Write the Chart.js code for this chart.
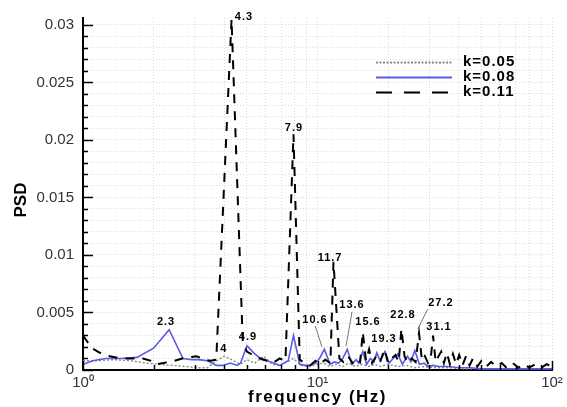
<!DOCTYPE html>
<html>
<head>
<meta charset="utf-8">
<script src="https://cdn.jsdelivr.net/npm/chart.js@4.4.1/dist/chart.umd.min.js"></script>
<style>
  body { margin: 0; background: #fff; }
  canvas { display: block; }
</style>
</head>
<body>
<canvas id="psdChart" width="567" height="407"></canvas>
<script>
// k = 0.05 (dotted)
const freq05 = [1.00,1.15,1.35,1.60,1.85,2.10,2.40,2.75,3.10,3.40,3.70,4.00,4.40,4.70,5.00,5.40,5.90,6.40,6.90,7.40,
  7.90,8.50,9.20,9.90,10.6,11.3,12.0,12.8,13.6,14.5,15.5,16.5,17.5,18.5,20.0,22.0,24.0,26.0,28.0,32.0,36.0,42.0,50.0,60.0,75.0,100];
const psd05 = [0.0008,0.0008,0.0009,0.0008,0.0006,0.0005,0.0004,0.0003,0.0002,0.0002,
  0.0008,0.0012,0.0008,0.0005,0.0009,0.0006,0.0012,0.0005,0.0004,0.0007,
  0.0010,0.0004,0.0003,0.0005,0.0006,0.0003,0.0005,0.0003,0.0006,0.0003,
  0.0005,0.0003,0.0005,0.0003,0.0005,0.0003,0.0004,0.0002,0.0003,0.0002,
  0.0002,0.0001,0.0001,0.0001,0.0001,0.0001];

// k = 0.08 (solid blue)
const freq08 = [1.00,1.10,1.25,1.45,1.70,2.00,2.33,2.67,2.90,3.10,3.40,3.70,3.95,4.25,4.55,4.70,5.00,5.40,5.80,6.10,
  6.50,6.90,7.50,7.90,8.40,8.90,9.30,9.80,10.2,10.7,11.3,11.8,12.3,12.8,13.4,14.0,14.6,15.0,15.6,16.2,
  16.8,17.4,17.9,18.5,19.4,20.2,21.0,22.0,23.0,24.2,25.0,26.0,27.2,28.5,29.5,31.0,33.0,36.0,40.0,45.0,
  50.0,60.0,70.0,80.0,100];
const psd08 = [0.0005,0.0008,0.0010,0.0010,0.0011,0.0019,0.0035,0.0010,0.0009,0.0009,
  0.0008,0.0004,0.0004,0.0006,0.0004,0.0006,0.0021,0.0014,0.0009,0.0008,
  0.0006,0.0004,0.0008,0.0030,0.0005,0.0004,0.0004,0.0006,0.0010,0.0018,
  0.0005,0.0007,0.0006,0.0010,0.0018,0.0005,0.0009,0.0006,0.0016,0.0005,
  0.0010,0.0007,0.0015,0.0008,0.0016,0.0006,0.0010,0.0014,0.0005,0.0012,
  0.0007,0.0017,0.0005,0.0006,0.0003,0.0004,0.0003,0.0003,0.0002,0.0002,
  0.0001,0.0001,0.0001,0.0001,0.0001];

// k = 0.11 (dashed black)
const freq11 = [1.00,1.09,1.18,1.30,1.45,1.60,1.80,1.95,2.05,2.20,2.45,2.65,2.85,3.05,3.30,3.50,3.70,4.30,4.80,5.00,
  5.30,5.70,6.10,6.45,6.90,7.30,7.90,8.40,8.80,9.30,9.80,10.2,10.8,11.35,11.7,12.4,12.9,13.5,14.1,14.7,
  15.2,15.6,16.1,16.6,17.1,17.8,18.5,19.3,20.0,20.7,21.5,22.2,22.8,23.5,24.3,25.2,26.2,27.1,27.9,28.7,
  29.6,30.4,31.1,31.9,32.8,33.7,34.6,35.6,36.7,37.8,39.0,40.2,41.5,43.0,44.5,46.0,48.0,50.0,52.5,55.0,
  58.0,61.0,64.0,68.0,72.0,76.0,80.0,85.0,90.0,95.0,100];
const psd11 = [0.0030,0.0019,0.0015,0.0012,0.0010,0.0010,0.0010,0.0008,0.0005,0.0006,
  0.0008,0.0010,0.0011,0.0012,0.0009,0.0008,0.0009,0.0305,0.0024,0.0016,
  0.0013,0.0010,0.0008,0.0006,0.0010,0.0008,0.0205,0.0009,0.0006,0.0004,
  0.0008,0.0005,0.0009,0.0006,0.0094,0.0010,0.0007,0.0012,0.0006,0.0010,
  0.0007,0.0033,0.0008,0.0018,0.0006,0.0012,0.0007,0.0018,0.0006,0.0010,
  0.0013,0.0007,0.0036,0.0012,0.0006,0.0010,0.0007,0.0032,0.0008,0.0012,
  0.0006,0.0010,0.0030,0.0007,0.0012,0.0016,0.0006,0.0015,0.0005,0.0014,
  0.0005,0.0013,0.0004,0.0012,0.0004,0.0010,0.0003,0.0008,0.0003,0.0007,
  0.0003,0.0006,0.0002,0.0006,0.0002,0.0005,0.0002,0.0005,0.0002,0.0005,
  0.0003];

// axis ticks
const xMajor = [1, 10, 100];
const xMajorLabels = ['10\u2070', '10\u00b9', '10\u00b2'];
const yMajor = [0, 0.005, 0.01, 0.015, 0.02, 0.025, 0.03];
const yMajorLabels = ['0', '0.005', '0.01', '0.015', '0.02', '0.025', '0.03'];

// peak annotations: text, anchor in data units
const peakText = ['2.3', '4', '4.3', '4.9', '7.9', '10.6', '11.7', '13.6', '15.6', '19.3', '22.8', '27.2', '31.1'];
const peakAt = [[2.26, 0.00417], [3.99, 0.00183], [4.86, 0.0307], [5.05, 0.00287], [7.94, 0.02104],
  [9.76, 0.00435], [11.31, 0.00974], [14.03, 0.00565], [16.42, 0.00417], [19.21, 0.0027],
  [23.15, 0.00478], [33.6, 0.00583], [32.97, 0.00374]];
const leaders = [[[9.78, 0.00383], [10.45, 0.0020]], [[14.03, 0.00504], [13.24, 0.00209]], [[29.5, 0.0053], [26.8, 0.00357]]];

const xTicks = [];
for (const d of [1, 10]) for (let m = 1; m < 10; m++) xTicks.push(d * m);
xTicks.push(100);
const yTicks = [];
for (let i = 0; i <= 30; i++) yTicks.push(i / 1000);

const pts = (fs, ps) => fs.map((f, i) => ({x: f, y: ps[i]}));

const decorations = {
  id: 'decorations',
  afterDraw(chart) {
    const {ctx, chartArea: a, scales: {x, y}} = chart;
    ctx.save();
    const seg = (x1, y1, x2, y2) => { ctx.beginPath(); ctx.moveTo(x1, y1); ctx.lineTo(x2, y2); ctx.stroke(); };

    // inward ticks
    ctx.strokeStyle = '#000';
    ctx.lineWidth = 1.5;
    yTicks.forEach((v, i) => {
      const py = Math.round(y.getPixelForValue(v)) + 0.5;
      seg(a.left, py, a.left + (i % 5 === 0 ? 10 : 5), py);
    });
    xTicks.forEach(v => {
      const px = Math.round(x.getPixelForValue(v)) + 0.5;
      seg(px, a.bottom, px, a.bottom - (xMajor.includes(v) ? 9 : 5));
    });

    // leader lines
    ctx.strokeStyle = '#777';
    ctx.lineWidth = 1;
    leaders.forEach(([p, q]) => seg(x.getPixelForValue(p[0]), y.getPixelForValue(p[1]),
      x.getPixelForValue(q[0]), y.getPixelForValue(q[1])));

    // peak labels
    ctx.fillStyle = '#000';
    ctx.font = 'bold 11px "Liberation Sans", Arial, sans-serif';
    ctx.letterSpacing = '1px';
    ctx.textAlign = 'center';
    ctx.textBaseline = 'middle';
    peakText.forEach((t, i) => ctx.fillText(t, x.getPixelForValue(peakAt[i][0]), y.getPixelForValue(peakAt[i][1])));

    // legend
    const rows = [62, 77, 92];
    const legendDash = [[2, 1.5], [], [16, 12]];
    ctx.font = 'bold 15px "Liberation Sans", Arial, sans-serif';
    ctx.textAlign = 'left';
    chart.data.datasets.forEach((ds, i) => {
      ctx.save();
      ctx.strokeStyle = ds.borderColor;
      ctx.lineWidth = 2;
      ctx.setLineDash(legendDash[i]);
      seg(376, rows[i] + 0.5, 452, rows[i] + 0.5);
      ctx.restore();
      ctx.fillText(ds.label, 463, rows[i]);
    });

    // axis titles
    ctx.font = 'bold 17px "Liberation Sans", Arial, sans-serif';
    ctx.letterSpacing = '1.5px';
    ctx.textAlign = 'center';
    ctx.fillText('frequency (Hz)', (a.left + a.right) / 2, 397);
    ctx.letterSpacing = '0px';
    ctx.translate(21, 200);
    ctx.rotate(-Math.PI / 2);
    ctx.fillText('PSD', 0, 0);
    ctx.restore();
  }
};

new Chart(document.getElementById('psdChart'), {
  type: 'line',
  data: {
    datasets: [
      {label: 'k=0.05', data: pts(freq05, psd05), borderColor: '#8a8a8a', borderWidth: 1.4, borderDash: [2, 2], order: 2},
      {label: 'k=0.08', data: pts(freq08, psd08), borderColor: '#5a5ae6', borderWidth: 1.6, order: 1},
      {label: 'k=0.11', data: pts(freq11, psd11), borderColor: '#000000', borderWidth: 2, borderDash: [9, 8], order: 0}
    ]
  },
  options: {
    responsive: false,
    devicePixelRatio: 1,
    animation: false,
    elements: {point: {radius: 0}, line: {tension: 0}},
    layout: {padding: {top: 18, right: 15, left: 0, bottom: 0}},
    plugins: {legend: {display: false}, tooltip: {enabled: false}},
    scales: {
      x: {
        type: 'logarithmic',
        position: 'bottom',
        min: 1,
        max: 100,
        afterBuildTicks: s => { s.ticks = xTicks.map(v => ({value: v})); },
        afterFit: s => { s.height = 37; },
        ticks: {
          autoSkip: false,
          maxRotation: 0,
          padding: 4,
          color: '#333',
          font: {family: '"Liberation Sans", Arial, sans-serif', size: 15},
          callback: v => { const i = xMajor.indexOf(v); return i >= 0 ? xMajorLabels[i] : ''; }
        },
        grid: {color: '#dadada', lineWidth: 1, drawTicks: false},
        border: {color: '#000', width: 2, dash: [1, 2]}
      },
      y: {
        type: 'linear',
        min: 0,
        max: 0.0306,
        afterBuildTicks: s => { s.ticks = yTicks.map(v => ({value: v})); },
        afterFit: s => { s.width = 83; },
        ticks: {
          autoSkip: false,
          padding: 9,
          color: '#333',
          font: {family: '"Liberation Sans", Arial, sans-serif', size: 15},
          callback: v => {
            const i = yMajor.findIndex(m => Math.abs(m - v) < 1e-9);
            return i >= 0 ? yMajorLabels[i] : '';
          }
        },
        grid: {color: '#dadada', lineWidth: 1, drawTicks: false},
        border: {color: '#000', width: 2, dash: [1, 2]}
      }
    }
  },
  plugins: [decorations]
});
</script>
</body>
</html>
